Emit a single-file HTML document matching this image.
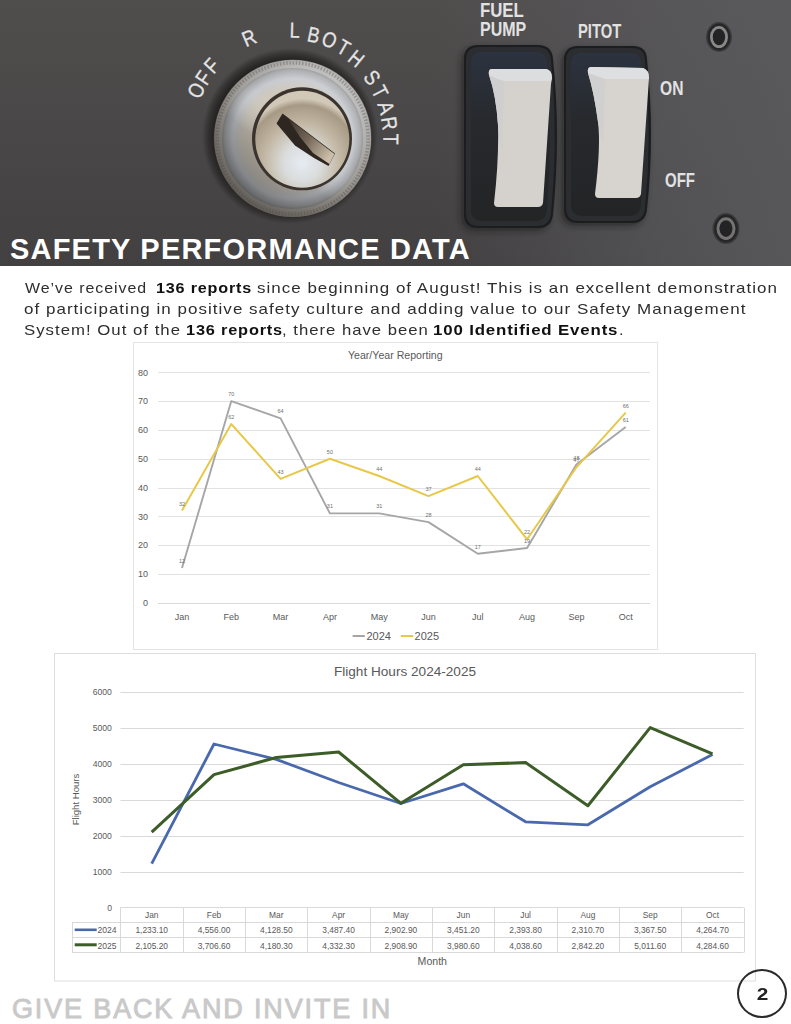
<!DOCTYPE html>
<html><head><meta charset="utf-8"><title>Safety Performance Data</title>
<style>
html,body{margin:0;padding:0;background:#fff;}
body{width:791px;height:1024px;position:relative;overflow:hidden;font-family:"Liberation Sans",Arial,sans-serif;}
.abs{position:absolute;}
#photo{left:0;top:0;width:791px;height:266px;}
#title{left:10px;top:233px;color:#fff;font-weight:bold;font-size:29px;white-space:nowrap;letter-spacing:1.2px;line-height:32px;transform-origin:0 0;transform:scaleX(1.0);}
#footer{left:12px;top:995px;color:#c9c9c9;font-weight:normal;-webkit-text-stroke:0.9px #c9c9c9;font-size:27px;white-space:nowrap;line-height:28px;letter-spacing:1.85px;transform-origin:0 0;transform:scaleX(1.0);}
#pgnum{left:737px;top:969px;width:46px;height:45px;border:2px solid #2a2a2a;border-radius:50%;text-align:center;font-weight:bold;font-size:16px;line-height:48px;color:#222;transform-origin:50% 50%;}#pgnum span{display:inline-block;transform:scaleX(1.3);}
.sg{position:absolute;font-size:15px;line-height:21px;white-space:nowrap;transform-origin:0 0;font-size:15px;color:#2e2e2e;letter-spacing:0.9px;}
.sg.b{font-weight:bold;color:#111;letter-spacing:0.75px;}
</style></head><body>
<svg id="photo" class="abs" width="791" height="266" viewBox="0 0 791 266">
<defs>
<linearGradient id="bg" x1="0" y1="0" x2="0" y2="1">
<stop offset="0" stop-color="#504d4d"/><stop offset="0.5" stop-color="#494747"/><stop offset="1" stop-color="#424041"/>
</linearGradient>
<linearGradient id="bgr" x1="0" y1="0" x2="1" y2="0">
<stop offset="0" stop-color="#5c5c60" stop-opacity="0"/><stop offset="0.55" stop-color="#5c5c60" stop-opacity="0"/><stop offset="0.85" stop-color="#5c5c60" stop-opacity="0.6"/><stop offset="1" stop-color="#5c5c60" stop-opacity="0.8"/>
</linearGradient>

<radialGradient id="halo" cx="0.5" cy="0.5" r="0.5">
<stop offset="0.84" stop-color="#1c1a19" stop-opacity="0.95"/><stop offset="0.93" stop-color="#1c1a19" stop-opacity="0.5"/><stop offset="1" stop-color="#1c1a19" stop-opacity="0"/>
</radialGradient>
<radialGradient id="ring" cx="0.5" cy="0.5" r="0.5">
<stop offset="0.62" stop-color="#cfc8bc"/><stop offset="0.76" stop-color="#c6c9ce"/><stop offset="0.86" stop-color="#a6a8ab"/><stop offset="0.94" stop-color="#77736e"/><stop offset="1" stop-color="#45403c"/>
</radialGradient>
<linearGradient id="ringlight" x1="0.85" y1="0.1" x2="0.15" y2="0.95">
<stop offset="0" stop-color="#fff" stop-opacity="0.18"/><stop offset="0.38" stop-color="#fff" stop-opacity="0"/><stop offset="0.62" stop-color="#000" stop-opacity="0.2"/><stop offset="1" stop-color="#000" stop-opacity="0.45"/>
</linearGradient>
<radialGradient id="disc" cx="0.5" cy="0.74" r="0.66">
<stop offset="0" stop-color="#e6ecf4"/><stop offset="0.3" stop-color="#dadcdc"/><stop offset="0.6" stop-color="#c4b9a6"/><stop offset="0.9" stop-color="#a79a85"/><stop offset="1" stop-color="#d2c8b8"/>
</radialGradient>
<linearGradient id="bevel" x1="0" y1="0" x2="1" y2="0.7">
<stop offset="0" stop-color="#3a3029"/><stop offset="0.5" stop-color="#75685a"/><stop offset="1" stop-color="#cbbfa9"/>
</linearGradient>
<linearGradient id="bez" x1="0" y1="0" x2="0" y2="1">
<stop offset="0" stop-color="#2c3340"/><stop offset="0.4" stop-color="#27292d"/><stop offset="1" stop-color="#232426"/>
</linearGradient>
<linearGradient id="knurl" x1="0.85" y1="0.05" x2="0.15" y2="0.95">
<stop offset="0" stop-color="#d4d4d6"/><stop offset="0.45" stop-color="#aaa7a3"/><stop offset="0.75" stop-color="#85807a"/><stop offset="1" stop-color="#6a655f"/>
</linearGradient>
<filter id="soft" x="-20%" y="-20%" width="140%" height="140%"><feGaussianBlur stdDeviation="3"/></filter>
</defs>
<rect width="791" height="266" fill="url(#bg)"/>
<rect width="791" height="266" fill="url(#bgr)"/>
<!-- key switch -->
<circle cx="290" cy="136" r="88" fill="url(#halo)"/>
<circle cx="292.6" cy="138.4" r="79" fill="url(#ring)"/>
<circle cx="292.6" cy="138.4" r="79" fill="url(#ringlight)"/>
<circle cx="292.6" cy="138.4" r="74.5" fill="none" stroke="url(#knurl)" stroke-width="8" opacity="0.75"/>
<circle cx="292.6" cy="138.4" r="75.5" fill="none" stroke="#4e4a45" stroke-width="3.5" stroke-dasharray="1.4 1.8" opacity="0.35"/>
<ellipse cx="302" cy="138.8" rx="50" ry="51.5" fill="#3b342e"/>
<ellipse cx="302.3" cy="139.3" rx="47" ry="48.5" fill="url(#disc)"/>
<path d="M276.5,123.5 L282.5,113.5 L335,153.5 L328.5,166 L314,158 L295,145.5 Z" fill="#2e2620"/>
<path d="M288,118.5 L334.5,154 L329.5,164 L313,153 L300,137 Z" fill="url(#bevel)"/>
<g fill="#e4e4e4" stroke="#e4e4e4" stroke-width="0.3" font-family="Liberation Sans, Arial, sans-serif" font-size="21.5" text-anchor="middle">
<text transform="translate(196,90.4) rotate(-63.6) scale(0.84,1)" y="7.7">O</text>
<text transform="translate(203.2,77.6) rotate(-55.8) scale(0.84,1)" y="7.7">F</text>
<text transform="translate(211.4,65.5) rotate(-48.0) scale(0.84,1)" y="7.7">F</text>
<text transform="translate(248.9,37.5) rotate(-23.2) scale(0.84,1)" y="7.7">R</text>
<text transform="translate(294.8,30) rotate(1.5) scale(0.84,1)" y="7.7">L</text>
<text transform="translate(313.8,34.8) rotate(11.9) scale(0.84,1)" y="7.7">B</text>
<text transform="translate(329.6,39.5) rotate(20.9) scale(0.84,1)" y="7.7">O</text>
<text transform="translate(343.8,47.4) rotate(29.8) scale(0.84,1)" y="7.7">T</text>
<text transform="translate(356.5,58.5) rotate(39.1) scale(0.84,1)" y="7.7">H</text>
<text transform="translate(372.3,77.4) rotate(53.0) scale(0.84,1)" y="7.7">S</text>
<text transform="translate(380.2,91.7) rotate(62.3) scale(0.84,1)" y="7.7">T</text>
<text transform="translate(386.5,107.5) rotate(72.1) scale(0.84,1)" y="7.7">A</text>
<text transform="translate(389.7,123.3) rotate(81.4) scale(0.84,1)" y="7.7">R</text>
<text transform="translate(391.2,139) rotate(90.6) scale(0.84,1)" y="7.7">T</text>
</g>
<!-- bezel shadows -->
<path d="M478,47 L538,47 Q552,47 553,61 Q561,138 553,216 Q552,230 538,230 L478,230 Q464,230 464,216 L464,61 Q464,47 478,47 Z" fill="#151515" opacity="0.55" filter="url(#soft)" transform="translate(-3,1)"/>
<path d="M578,48 L633,48 Q647,48 647,62 Q655,136 647,211 Q646,225 632,225 L578,225 Q564,225 564,211 L564,62 Q564,48 578,48 Z" fill="#151515" opacity="0.55" filter="url(#soft)" transform="translate(-3,1)"/>
<!-- rocker 1 -->
<path d="M478,45 L538,45 Q552,45 553,59 Q561,136 553,214 Q552,228 538,228 L478,228 Q464,228 464,214 L464,59 Q464,45 478,45 Z" fill="#1c1d1f"/>
<path d="M479,47 L537,47 Q550,47 551,60 Q558.5,136 551,213 Q550,226 537,226 L479,226 Q466,226 466,213 L466,60 Q466,47 479,47 Z" fill="#2b2d31"/>
<path d="M483,52 L535,52 Q546,52 547,63 Q553,136 547,210 Q546,221 535,221 L483,221 Q471,221 471,210 L471,63 Q471,52 483,52 Z" fill="url(#bez)"/>
<path d="M492,69 L546,69 Q552,70 552,78 L551,84 L543,203 Q542,207 538,207 L498,207 Q494,207 494,203 Q499,160 498,125 Q496,95 489,75 Q488,69 492,69 Z" fill="#d5d1cc"/>
<path d="M492,69 L546,69 Q552,70 552,78 L551,81 L504,81 Q496,79 489,75 Q488,69 492,69 Z" fill="#dcdddf"/>
<path d="M489,75 Q496,79 504,81 L502,150 Q499,135 498,125 Q496,95 489,75 Z" fill="#cfcfcf"/>
<!-- rocker 2 -->
<path d="M578,46 L633,46 Q647,46 647,60 Q655,134 647,209 Q646,223 632,223 L578,223 Q564,223 564,209 L564,60 Q564,46 578,46 Z" fill="#1c1d1f"/>
<path d="M579,48 L632,48 Q645,48 645,61 Q652.5,134 645,208 Q644,221 631,221 L579,221 Q566,221 566,208 L566,61 Q566,48 579,48 Z" fill="#2b2d31"/>
<path d="M583,53 L630,53 Q641,53 641,64 Q647,134 641,205 Q640,216 629,216 L583,216 Q571,216 571,205 L571,64 Q571,53 583,53 Z" fill="url(#bez)"/>
<path d="M591,67 L643,68 Q649,70 649,78 L641,194 Q640,198 636,198 L599,198 Q595,198 595,194 Q601,146 598,122 Q594,92 588,73 Q587,67 591,67 Z" fill="#d7d3ce"/>
<path d="M591,67 L643,68 Q649,70 649,78 L649,79 L605,79 Q596,76 588,73 Q587,67 591,67 Z" fill="#dedfe1"/>
<path d="M588,73 Q596,76 605,79 L603,145 Q600,132 598,122 Q594,92 588,73 Z" fill="#d0d0d0"/>
<!-- labels -->
<g fill="#e2e2e2" font-family="Liberation Sans, Arial, sans-serif" font-weight="bold" font-size="20">
<text transform="translate(480,17) scale(0.84,1)">FUEL</text>
<text transform="translate(480,36) scale(0.8,1)">PUMP</text>
<text transform="translate(578,38) scale(0.74,1)">PITOT</text>
<text transform="translate(660,95) scale(0.78,1)">ON</text>
<text transform="translate(665,186.5) scale(0.75,1)">OFF</text>
</g>
<!-- screws -->
<ellipse cx="719" cy="37" rx="13" ry="15" fill="#2b2b2d" opacity="0.6"/>
<ellipse cx="719" cy="37" rx="11.5" ry="13.5" fill="#262628"/>
<ellipse cx="719" cy="37" rx="7.6" ry="9.6" fill="none" stroke="#8a8886" stroke-width="2.8"/>
<ellipse cx="718.5" cy="37" rx="5.6" ry="7.4" fill="#232325"/>
<ellipse cx="726" cy="228.6" rx="13.5" ry="15.5" fill="#2b2b2d" opacity="0.6"/>
<ellipse cx="726" cy="228.6" rx="12" ry="14" fill="#262628"/>
<ellipse cx="726" cy="228.6" rx="8" ry="9.8" fill="none" stroke="#757472" stroke-width="3"/>
<ellipse cx="725.5" cy="228.6" rx="5.8" ry="7.4" fill="#232325"/>
</svg>
<div id="title" class="abs">SAFETY PERFORMANCE DATA</div>

<!--para-->
<div class="sg" style="top:277px;left:25.00px;transform:scaleX(1.0637)">We’ve received</div>
<div class="sg b" style="top:277px;left:155.72px;transform:scaleX(1.0782)">136 reports</div>
<div class="sg" style="top:277px;left:257.07px;transform:scaleX(1.1308)">since beginning of August! This is an excellent demonstration</div>
<div class="sg" style="top:298px;left:24.37px;transform:scaleX(1.1329)">of participating in positive safety culture and adding value to our Safety Management</div>
<div class="sg" style="top:319px;left:24.38px;transform:scaleX(1.1181)">System! Out of the</div>
<div class="sg b" style="top:319px;left:186.31px;transform:scaleX(1.0885)">136 reports</div>
<div class="sg" style="top:319px;left:282.29px;transform:scaleX(1.1124)">, there have been</div>
<div class="sg b" style="top:319px;left:433.38px;transform:scaleX(1.1233)">100 Identified Events</div>
<div class="sg" style="top:319px;left:618.60px;transform:scaleX(1.1000)">.</div>
<!--/para-->
<svg id="charts" class="abs" style="left:0;top:0" width="791" height="1024" viewBox="0 0 791 1024">
<rect x="133.5" y="342.5" width="524" height="307" fill="#fff" stroke="#e4e4e4" stroke-width="1"/>
<text x="395.3" y="358.8" font-family="Liberation Sans, Arial, sans-serif" font-size="10.6" fill="#595959" text-anchor="middle">Year/Year Reporting</text>
<line x1="158" x2="650" y1="574.5" y2="574.5" stroke="#e2e2e2" stroke-width="1"/>
<line x1="158" x2="650" y1="545.5" y2="545.5" stroke="#e2e2e2" stroke-width="1"/>
<line x1="158" x2="650" y1="516.5" y2="516.5" stroke="#e2e2e2" stroke-width="1"/>
<line x1="158" x2="650" y1="488.5" y2="488.5" stroke="#e2e2e2" stroke-width="1"/>
<line x1="158" x2="650" y1="459.5" y2="459.5" stroke="#e2e2e2" stroke-width="1"/>
<line x1="158" x2="650" y1="430.5" y2="430.5" stroke="#e2e2e2" stroke-width="1"/>
<line x1="158" x2="650" y1="401.5" y2="401.5" stroke="#e2e2e2" stroke-width="1"/>
<line x1="158" x2="650" y1="372.5" y2="372.5" stroke="#e2e2e2" stroke-width="1"/>
<line x1="158" x2="650" y1="603.5" y2="603.5" stroke="#d9d9d9" stroke-width="1"/>
<g font-family="Liberation Sans, Arial, sans-serif" font-size="9" fill="#595959" text-anchor="end">
<text x="148" y="605.9">0</text>
<text x="148" y="577.1">10</text>
<text x="148" y="548.3">20</text>
<text x="148" y="519.5">30</text>
<text x="148" y="490.7">40</text>
<text x="148" y="461.9">50</text>
<text x="148" y="433.1">60</text>
<text x="148" y="404.3">70</text>
<text x="148" y="375.5">80</text>
</g>
<g font-family="Liberation Sans, Arial, sans-serif" font-size="9" fill="#595959" text-anchor="middle">
<text x="182.0" y="620">Jan</text>
<text x="231.3" y="620">Feb</text>
<text x="280.6" y="620">Mar</text>
<text x="329.9" y="620">Apr</text>
<text x="379.2" y="620">May</text>
<text x="428.5" y="620">Jun</text>
<text x="477.8" y="620">Jul</text>
<text x="527.1" y="620">Aug</text>
<text x="576.4" y="620">Sep</text>
<text x="625.7" y="620">Oct</text>
</g>
<polyline points="182.0,568.1 231.3,401.1 280.6,418.4 329.9,513.4 379.2,513.4 428.5,522.1 477.8,553.7 527.1,548.0 576.4,464.5 625.7,427.0" fill="none" stroke="#a6a6a6" stroke-width="1.9" stroke-linejoin="round"/>
<polyline points="182.0,510.5 231.3,424.1 280.6,478.9 329.9,458.7 379.2,476.0 428.5,496.1 477.8,476.0 527.1,539.3 576.4,467.3 625.7,412.6" fill="none" stroke="#e8c848" stroke-width="2" stroke-linejoin="round"/>
<g font-family="Liberation Sans, Arial, sans-serif" font-size="5.5" fill="#6f6f6f" text-anchor="middle">
<text x="182.0" y="563.1">12</text>
<text x="231.3" y="396.1">70</text>
<text x="280.6" y="413.4">64</text>
<text x="329.9" y="508.4">31</text>
<text x="379.2" y="508.4">31</text>
<text x="428.5" y="517.1">28</text>
<text x="477.8" y="548.7">17</text>
<text x="527.1" y="543.0">19</text>
<text x="576.4" y="459.5">48</text>
<text x="625.7" y="422.0">61</text>
<text x="182.0" y="505.5">32</text>
<text x="231.3" y="419.1">62</text>
<text x="280.6" y="473.9">43</text>
<text x="329.9" y="453.7">50</text>
<text x="379.2" y="471.0">44</text>
<text x="428.5" y="491.1">37</text>
<text x="477.8" y="471.0">44</text>
<text x="527.1" y="534.3">22</text>
<text x="576.4" y="462.3">47</text>
<text x="625.7" y="407.6">66</text>
</g>
<line x1="352.6" x2="364.8" y1="636" y2="636" stroke="#a5a5a5" stroke-width="2"/>
<line x1="400.8" x2="413.3" y1="636" y2="636" stroke="#e8c848" stroke-width="2"/>
<g font-family="Liberation Sans, Arial, sans-serif" font-size="11" fill="#595959">
<text x="366.5" y="640">2024</text><text x="414.6" y="640">2025</text>
</g>
<rect x="54.5" y="653.5" width="701" height="327.5" fill="#fff" stroke="#dedede" stroke-width="1"/>
<text x="405" y="675.8" font-family="Liberation Sans, Arial, sans-serif" font-size="13.6" fill="#595959" text-anchor="middle">Flight Hours 2024-2025</text>
<line x1="120.5" x2="743.7" y1="872.5" y2="872.5" stroke="#d9d9d9" stroke-width="1"/>
<line x1="120.5" x2="743.7" y1="836.5" y2="836.5" stroke="#d9d9d9" stroke-width="1"/>
<line x1="120.5" x2="743.7" y1="800.5" y2="800.5" stroke="#d9d9d9" stroke-width="1"/>
<line x1="120.5" x2="743.7" y1="764.5" y2="764.5" stroke="#d9d9d9" stroke-width="1"/>
<line x1="120.5" x2="743.7" y1="728.5" y2="728.5" stroke="#d9d9d9" stroke-width="1"/>
<line x1="120.5" x2="743.7" y1="692.5" y2="692.5" stroke="#d9d9d9" stroke-width="1"/>
<g font-family="Liberation Sans, Arial, sans-serif" font-size="8.6" fill="#595959" text-anchor="end">
<text x="111.8" y="875.1">1000</text>
<text x="111.8" y="839.1">2000</text>
<text x="111.8" y="803.1">3000</text>
<text x="111.8" y="767.1">4000</text>
<text x="111.8" y="731.1">5000</text>
<text x="111.8" y="695.1">6000</text>
<text x="112" y="911">0</text>
</g>
<text transform="translate(78.6,799.5) rotate(-90)" font-family="Liberation Sans, Arial, sans-serif" font-size="9.6" fill="#595959" text-anchor="middle">Flight Hours</text>
<polyline points="151.7,863.6 214.0,744.0 276.3,759.4 338.6,782.5 400.9,803.5 463.3,783.8 525.6,821.8 587.9,824.8 650.2,786.8 712.5,754.5" fill="none" stroke="#4a69ad" stroke-width="2.8" stroke-linejoin="round"/>
<polyline points="151.7,832.2 214.0,774.6 276.3,757.5 338.6,752.0 400.9,803.3 463.3,764.7 525.6,762.6 587.9,805.7 650.2,727.6 712.5,753.8" fill="none" stroke="#3c5c28" stroke-width="3" stroke-linejoin="round"/>
<g stroke="#d9d9d9" stroke-width="1" fill="none">
<line x1="120.5" x2="743.7" y1="907.5" y2="907.5"/>
<line x1="72" x2="743.7" y1="922.5" y2="922.5"/>
<line x1="72" x2="743.7" y1="937.5" y2="937.5"/>
<line x1="72" x2="743.7" y1="952.5" y2="952.5"/>
<line x1="72.5" x2="72.5" y1="922.5" y2="952.5"/>
<line x1="120.5" x2="120.5" y1="907.5" y2="952.5"/>
<line x1="183.5" x2="183.5" y1="907.5" y2="952.5"/>
<line x1="245.5" x2="245.5" y1="907.5" y2="952.5"/>
<line x1="307.5" x2="307.5" y1="907.5" y2="952.5"/>
<line x1="370.5" x2="370.5" y1="907.5" y2="952.5"/>
<line x1="432.5" x2="432.5" y1="907.5" y2="952.5"/>
<line x1="494.5" x2="494.5" y1="907.5" y2="952.5"/>
<line x1="557.5" x2="557.5" y1="907.5" y2="952.5"/>
<line x1="619.5" x2="619.5" y1="907.5" y2="952.5"/>
<line x1="681.5" x2="681.5" y1="907.5" y2="952.5"/>
<line x1="744.5" x2="744.5" y1="907.5" y2="952.5"/>
</g>
<g font-family="Liberation Sans, Arial, sans-serif" font-size="8.4" fill="#595959" text-anchor="middle">
<text x="151.7" y="918.2">Jan</text>
<text x="214.0" y="918.2">Feb</text>
<text x="276.3" y="918.2">Mar</text>
<text x="338.6" y="918.2">Apr</text>
<text x="400.9" y="918.2">May</text>
<text x="463.3" y="918.2">Jun</text>
<text x="525.6" y="918.2">Jul</text>
<text x="587.9" y="918.2">Aug</text>
<text x="650.2" y="918.2">Sep</text>
<text x="712.5" y="918.2">Oct</text>
<text x="151.7" y="933.4">1,233.10</text>
<text x="214.0" y="933.4">4,556.00</text>
<text x="276.3" y="933.4">4,128.50</text>
<text x="338.6" y="933.4">3,487.40</text>
<text x="400.9" y="933.4">2,902.90</text>
<text x="463.3" y="933.4">3,451.20</text>
<text x="525.6" y="933.4">2,393.80</text>
<text x="587.9" y="933.4">2,310.70</text>
<text x="650.2" y="933.4">3,367.50</text>
<text x="712.5" y="933.4">4,264.70</text>
<text x="151.7" y="948.5">2,105.20</text>
<text x="214.0" y="948.5">3,706.60</text>
<text x="276.3" y="948.5">4,180.30</text>
<text x="338.6" y="948.5">4,332.30</text>
<text x="400.9" y="948.5">2,908.90</text>
<text x="463.3" y="948.5">3,980.60</text>
<text x="525.6" y="948.5">4,038.60</text>
<text x="587.9" y="948.5">2,842.20</text>
<text x="650.2" y="948.5">5,011.60</text>
<text x="712.5" y="948.5">4,284.60</text>
</g>
<line x1="74.7" x2="96.7" y1="929.8" y2="929.8" stroke="#4a69ad" stroke-width="2.6"/>
<line x1="74.7" x2="96.7" y1="944.8" y2="944.8" stroke="#3c5c28" stroke-width="3"/>
<g font-family="Liberation Sans, Arial, sans-serif" font-size="8.6" fill="#595959">
<text x="97.5" y="933.4">2024</text><text x="97.5" y="948.5">2025</text>
</g>
<text x="432.3" y="964.7" font-family="Liberation Sans, Arial, sans-serif" font-size="10.6" fill="#595959" text-anchor="middle">Month</text>
</svg>
<div id="footer" class="abs">GIVE BACK AND INVITE IN</div>
<div id="pgnum" class="abs"><span>2</span></div>
</body></html>
